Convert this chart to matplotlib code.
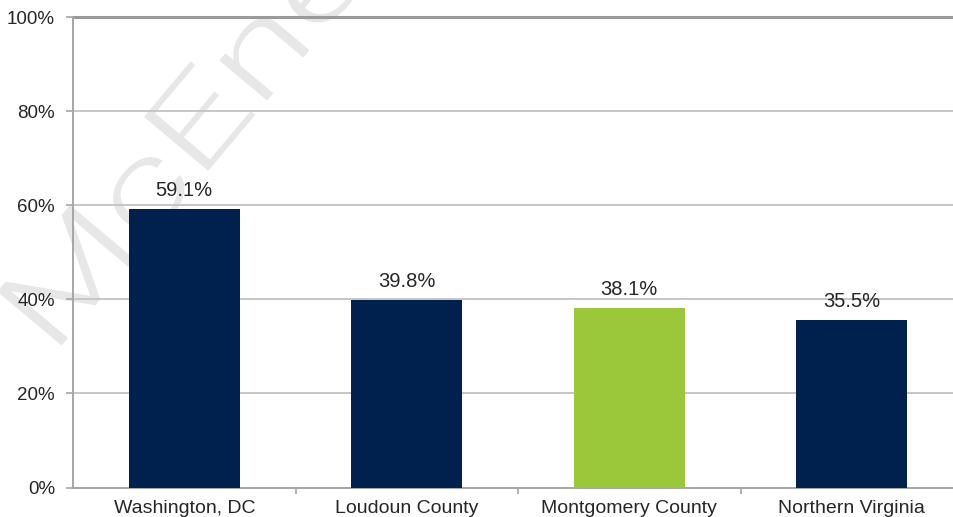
import matplotlib.pyplot as plt
from matplotlib.ticker import FuncFormatter
from matplotlib.textpath import TextPath
from matplotlib.patches import PathPatch
from matplotlib.font_manager import FontProperties
from matplotlib.transforms import Affine2D

plt.rcParams['font.family'] = ['Liberation Sans', 'DejaVu Sans']

regions = ["Washington, DC", "Loudoun County", "Montgomery County", "Northern Virginia"]
shares = [59.1, 39.8, 38.1, 35.5]
bar_colors = ["#00204E", "#00204E", "#9BC83B", "#00204E"]
y_ticks = [0, 20, 40, 60, 80, 100]

W, H = 954, 517
fig = plt.figure(figsize=(W / 100, H / 100), dpi=100)
fig.patch.set_facecolor("white")

# plot area runs a little past the right edge of the canvas
ax = fig.add_axes([73 / W, 29.5 / H, 890 / W, 470.5 / H])
ax.patch.set_alpha(0)

# faint watermark behind the plot: widened, rotated text outline in pixel coords
wm = TextPath((0, 0), "McEnearney", size=118,
              prop=FontProperties(family="Roboto", weight=300))
wm_tf = Affine2D().scale(1.4, 1.0).rotate_deg(50).translate(52, 160)
fig.add_artist(PathPatch(wm, transform=wm_tf, facecolor="#E7E7E7",
                         edgecolor="none", zorder=-5))

x = range(len(regions))
bars = ax.bar(x, shares, width=0.5, color=bar_colors, zorder=3)

for rect, v in zip(bars, shares):
    ax.annotate(f"{v:.1f}%", (rect.get_x() + rect.get_width() / 2, v),
                xytext=(0, 7), textcoords="offset points",
                ha="center", va="bottom", fontsize=14.5, color="#262626")

ax.set_xlim(-0.5, len(regions) - 0.5)
ax.set_ylim(0, 100)
ax.set_yticks(y_ticks)
ax.yaxis.set_major_formatter(FuncFormatter(lambda v, p: f"{v:.0f}%"))

ax.set_xticks(x)
ax.set_xticklabels(regions)
ax.set_xticks([i + 0.5 for i in range(len(regions) - 1)], minor=True)

ax.grid(axis="y", color="#C6C6C6", linewidth=1.4, zorder=0)
ax.set_axisbelow(True)

for side in ["top", "right"]:
    ax.spines[side].set_visible(False)
ax.spines["left"].set_color("#A6A6A6")
ax.spines["left"].set_linewidth(1.4)
ax.spines["bottom"].set_color("#A6A6A6")
ax.spines["bottom"].set_linewidth(1.4)
ax.axhline(100, color="#9A9A9A", linewidth=2.2, zorder=1, clip_on=False)

ax.tick_params(axis="y", length=5, width=1.2, color="#A6A6A6", pad=8,
               labelsize=13.5, labelcolor="#262626")
ax.tick_params(axis="x", which="major", length=0, pad=9,
               labelsize=14, labelcolor="#262626")
ax.tick_params(axis="x", which="minor", length=4, width=1.2, color="#A6A6A6")

fig.savefig("out.png", dpi=100)
